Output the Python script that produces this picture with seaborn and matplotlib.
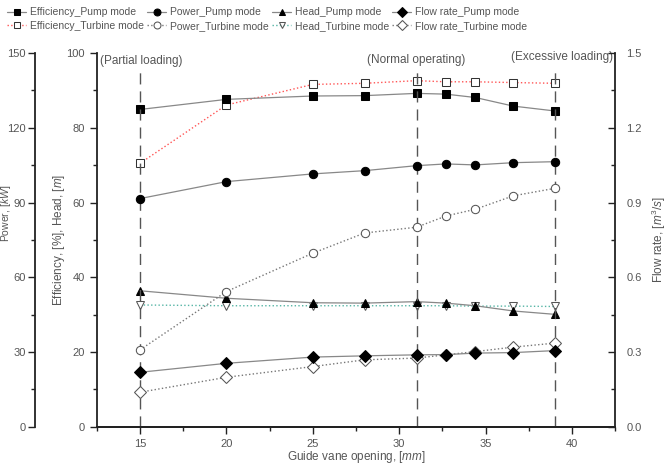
import numpy as np
import matplotlib.pyplot as plt
import seaborn as sns
from matplotlib.ticker import MultipleLocator

sns.set_theme(style="ticks")
plt.rcParams['font.family'] = ['Liberation Sans', 'DejaVu Sans']
plt.rcParams['mathtext.fontset'] = 'custom'
plt.rcParams['mathtext.rm'] = 'Liberation Sans'
plt.rcParams['mathtext.it'] = 'Liberation Sans:italic'

# guide vane opening [mm]
opening = [15, 20, 25, 28, 31, 32.7, 34.4, 36.6, 39]

eff_pump = [84.9, 87.6, 88.5, 88.6, 89.2, 89.0, 88.1, 85.8, 84.5]
eff_turbine = [70.5, 86.1, 91.6, 91.9, 92.6, 92.3, 92.3, 92.1, 91.9]
power_pump = [91.6, 98.4, 101.5, 102.8, 104.8, 105.5, 105.1, 106.0, 106.4]
power_turbine = [30.9, 54.3, 69.7, 77.8, 80.1, 84.6, 87.3, 92.7, 95.7]
head_pump = [36.4, 34.4, 33.2, 33.1, 33.5, 33.1, 32.4, 31.0, 30.1]
head_turbine = [32.6, 32.4, 32.4, 32.4, 32.4, 32.4, 32.3, 32.3, 32.2]
flow_pump = [0.219, 0.255, 0.280, 0.285, 0.289, 0.290, 0.296, 0.298, 0.306]
flow_turbine = [0.139, 0.199, 0.242, 0.269, 0.276, 0.289, 0.302, 0.320, 0.336]

zones = [15, 31, 39]

TXT = '#555555'
fig = plt.figure(figsize=(6.68, 4.65), dpi=100)
ax = fig.add_axes([0.145, 0.082, 0.776, 0.804])
ax_p = ax.twinx()
ax_q = ax.twinx()

pump_kw = dict(color='#888888', lw=0.9, markerfacecolor='black', markeredgecolor='black', markersize=6)
turb_kw = dict(lw=1.0, linestyle=':', markerfacecolor='white', markersize=6.5)

sns.lineplot(x=opening, y=eff_turbine, ax=ax, marker='s', markeredgecolor='#333333', color='#ff5555', **turb_kw)
sns.lineplot(x=opening, y=eff_pump, ax=ax, marker='s', **pump_kw)
sns.lineplot(x=opening, y=head_turbine, ax=ax, marker='v', markeredgecolor='#555555', color='#55b5a5', **turb_kw)
sns.lineplot(x=opening, y=head_pump, ax=ax, marker='^', **pump_kw)
sns.lineplot(x=opening, y=power_turbine, ax=ax_p, marker='o', markeredgecolor='#555555', color='#777777', **turb_kw)
sns.lineplot(x=opening, y=power_pump, ax=ax_p, marker='o', **pump_kw)
sns.lineplot(x=opening, y=flow_turbine, ax=ax_q, marker='D', markeredgecolor='#555555', color='#777777', **turb_kw)
sns.lineplot(x=opening, y=flow_pump, ax=ax_q, marker='D', **pump_kw)

for z in zones:
    ax.vlines(z, 0, 95.5, colors='#555555', linestyles=(0, (8, 5)), lw=1.0)

ax.text(12.7, 99.6, '(Partial loading)', ha='left', va='top', fontsize=8.5, color=TXT)
ax.text(31, 98.1, '(Normal operating)', ha='center', va='center', fontsize=8.5, color=TXT)
ax.text(42.4, 98.8, '(Excessive loading)', ha='right', va='center', fontsize=8.5, color=TXT)

# axes limits / ticks
ax.set_xlim(12.5, 42.5)
ax.set_ylim(0, 100)
ax_p.set_ylim(0, 150)
ax_q.set_ylim(0, 1.5)
ax.xaxis.set_major_locator(MultipleLocator(5))
ax.xaxis.set_minor_locator(MultipleLocator(2.5))
ax.yaxis.set_major_locator(MultipleLocator(20))
ax.yaxis.set_minor_locator(MultipleLocator(10))
ax_p.yaxis.set_major_locator(MultipleLocator(30))
ax_p.yaxis.set_minor_locator(MultipleLocator(15))
ax_q.yaxis.set_major_locator(MultipleLocator(0.3))
ax_q.yaxis.set_minor_locator(MultipleLocator(0.15))
ax_q.yaxis.set_major_formatter(plt.FormatStrFormatter('%.1f'))

ax_p.spines['left'].set_position(('outward', 44.6))
ax_p.spines['left'].set_visible(True)
ax_p.yaxis.set_label_position('left')
ax_p.yaxis.set_ticks_position('left')
ax_p.spines['right'].set_visible(False)
ax_q.spines['left'].set_visible(False)

for a in (ax, ax_p, ax_q):
    a.spines['top'].set_visible(False)
    for s in a.spines.values():
        s.set_color('#222222')
        s.set_linewidth(1.3)
    a.tick_params(which='both', colors='#222222', labelcolor=TXT, labelsize=8, width=1.0)
    a.tick_params(which='major', length=5)
    a.tick_params(which='minor', length=3)
ax.spines['right'].set_visible(False)
ax_q.tick_params(axis='y', which='both', direction='in')
ax_q.tick_params(axis='y', which='major', pad=8)
ax_p.tick_params(axis='y', which='major', pad=1.5)

ax.set_xlabel(r'Guide vane opening, [$\it{mm}$]', fontsize=8.5, color=TXT, labelpad=0)
ax.set_ylabel(r'Efficiency, [$\it{\%}$], Head, [$\it{m}$]', fontsize=8.5, color=TXT)
ax_p.set_ylabel(r'Power, [$\it{kW}$]', fontsize=7.5, color=TXT)
ax_q.set_ylabel(r'Flow rate, [$\it{m^3/s}$]', fontsize=8.5, color=TXT, labelpad=6)
ax.yaxis.set_label_coords(-0.057, 0.5)
ax_p.yaxis.set_label_coords(-0.162, 0.57)

# legend (column-wise order)
lines_ax = ax.get_lines()
lines_p = ax_p.get_lines()
lines_q = ax_q.get_lines()
handles = [lines_ax[1], lines_ax[0], lines_p[1], lines_p[0],
           lines_ax[3], lines_ax[2], lines_q[1], lines_q[0]]
labels = ['Efficiency_Pump mode', 'Efficiency_Turbine mode',
          'Power_Pump mode', 'Power_Turbine mode',
          'Head_Pump mode', 'Head_Turbine mode',
          'Flow rate_Pump mode', 'Flow rate_Turbine mode']
for h in handles:
    h.set_markersize(5)
leg = fig.legend(handles, labels, ncol=4, loc='upper left', bbox_to_anchor=(0.0, 1.0),
                 frameon=False, fontsize=7.5, handlelength=1.8, handletextpad=0.4,
                 columnspacing=0.3, labelspacing=0.35, borderaxespad=0.3)
for t in leg.get_texts():
    t.set_color(TXT)
for h in handles:
    h.set_markersize(6)

fig.savefig('out.png', dpi=100)
